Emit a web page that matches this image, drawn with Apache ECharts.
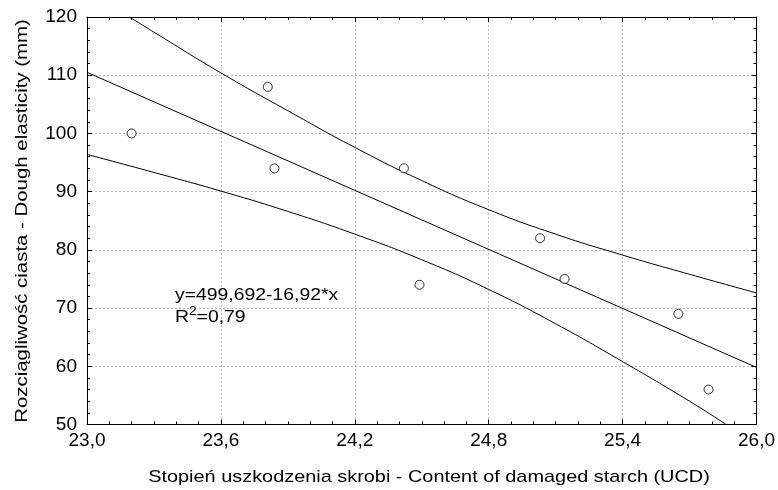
<!DOCTYPE html>
<html>
<head>
<meta charset="utf-8">
<script src="https://cdn.jsdelivr.net/npm/echarts@6/dist/echarts.min.js"></script>
<style>
html,body{margin:0;padding:0;background:#fff;}
#c{width:778px;height:490px;}
</style>
</head>
<body>
<div id="c"></div>
<script>
// Observed points (x: damaged starch UCD, y: dough elasticity mm)
var pointsX = [23.2, 23.81, 23.84, 24.42, 24.49, 25.03, 25.14, 25.65, 25.785];
var pointsY = [100, 108, 94, 94, 74, 82, 75, 69, 56];

// Regression line (read at the frame edges)
var fitX = [23.0, 26.0];
var fitY = [110.5, 59.8];

// Upper confidence band
var upperX = [23.19, 23.3, 23.6, 23.9, 24.2, 24.5, 24.8, 25.1, 25.4, 25.7, 26.0];
var upperY = [120, 117.4, 110.4, 103.9, 97.6, 91.9, 86.9, 82.7, 79.1, 75.8, 72.6];

// Lower confidence band
var lowerX = [23.0, 23.3, 23.6, 23.9, 24.2, 24.5, 24.8, 25.1, 25.4, 25.7, 25.864];
var lowerY = [96.4, 93.3, 90.1, 86.6, 82.7, 78.3, 73.2, 67.3, 60.8, 54.0, 50];

var xTitle = 'Stopień uszkodzenia skrobi - Content of damaged starch (UCD)';
var yTitle = 'Rozciągliwość ciasta - Dough elasticity (mm)';
var eqLine = 'y=499,692-16,92*x';
var r2Value = '=0,79';

function zip(a, b) { return a.map(function (v, i) { return [v, b[i]]; }); }
function fmt(v) { return String(Math.round(v)); }
function fmt1(v) { return (Math.round(v * 10) / 10).toFixed(1).replace('.', ','); }

var FONT = 'Liberation Sans, Arial, sans-serif';
var chart = echarts.init(document.getElementById('c'), null, {renderer: 'canvas'});

var frameAxis = {
  axisLine: {show: true, onZero: false, lineStyle: {color: '#000', width: 1}},
  axisTick: {show: true, inside: true, length: 5, lineStyle: {color: '#000'}},
  minorTick: {show: true, length: 3, lineStyle: {color: '#000'}},
  minorSplitLine: {show: false}
};

chart.setOption({
  backgroundColor: '#fff',
  animation: false,
  grid: {left: 87, right: 21, top: 17, bottom: 65.5, containLabel: false},
  xAxis: [
    Object.assign({}, frameAxis, {
      type: 'value', min: 23.0, max: 26.0, interval: 0.6, position: 'bottom',
      minorTick: Object.assign({}, frameAxis.minorTick, {splitNumber: 6}),
      axisLabel: {color: '#000', fontSize: 19, fontFamily: FONT, margin: 7, formatter: fmt1},
      splitLine: {show: true, lineStyle: {color: '#bdbdbd', type: [2, 2], width: 1}}
    }),
    Object.assign({}, frameAxis, {
      type: 'value', min: 23.0, max: 26.0, interval: 0.6, position: 'top',
      minorTick: Object.assign({}, frameAxis.minorTick, {splitNumber: 6}),
      axisLabel: {show: false}, splitLine: {show: false}
    })
  ],
  yAxis: [
    Object.assign({}, frameAxis, {
      type: 'value', min: 50, max: 120, interval: 10, position: 'left',
      minorTick: Object.assign({}, frameAxis.minorTick, {splitNumber: 5}),
      axisLabel: {color: '#000', fontSize: 19, fontFamily: FONT, margin: 10, formatter: fmt},
      splitLine: {show: true, lineStyle: {color: '#bdbdbd', type: [2, 2], width: 1}}
    }),
    Object.assign({}, frameAxis, {
      type: 'value', min: 50, max: 120, interval: 10, position: 'right',
      minorTick: Object.assign({}, frameAxis.minorTick, {splitNumber: 5}),
      axisLabel: {show: false}, splitLine: {show: false}
    })
  ],
  series: [
    {type: 'line', data: zip(upperX, upperY), smooth: 0.5, showSymbol: false, clip: true,
     lineStyle: {color: '#000', width: 1}, z: 3},
    {type: 'line', data: zip(fitX, fitY), showSymbol: false, clip: true,
     lineStyle: {color: '#000', width: 1}, z: 3},
    {type: 'line', data: zip(lowerX, lowerY), smooth: 0.5, showSymbol: false, clip: true,
     lineStyle: {color: '#000', width: 1}, z: 3},
    {type: 'scatter', data: zip(pointsX, pointsY), symbol: 'circle', symbolSize: 9,
     itemStyle: {color: '#fff', borderColor: '#000', borderWidth: 1}, z: 5}
  ],
  graphic: [
    {type: 'text', x: 429, y: 477, scaleX: 1.17, z: 10,
     style: {text: xTitle, fill: '#000', font: '17px ' + FONT, textAlign: 'center', textVerticalAlign: 'middle'}},
    {type: 'text', x: 22, y: 221, rotation: Math.PI / 2, scaleX: 1.2, z: 10,
     style: {text: yTitle, fill: '#000', font: '17px ' + FONT, textAlign: 'center', textVerticalAlign: 'middle'}},
    {type: 'text', x: 175, y: 295, scaleX: 1.14, z: 10,
     style: {text: eqLine, fill: '#000', font: '17px ' + FONT, textAlign: 'left', textVerticalAlign: 'middle'}},
    {type: 'text', x: 175, y: 317, scaleX: 1.14, z: 10,
     style: {
       text: '{a|R}{s|2}{a|' + r2Value + '}',
       textAlign: 'left', textVerticalAlign: 'middle',
       rich: {
         a: {fontSize: 17, fontFamily: FONT, color: '#000', lineHeight: 22},
         s: {fontSize: 12, fontFamily: FONT, color: '#000', verticalAlign: 'top', lineHeight: 22, padding: [0, 0, 7, 0]}
       }
     }}
  ]
});
</script>
</body>
</html>
